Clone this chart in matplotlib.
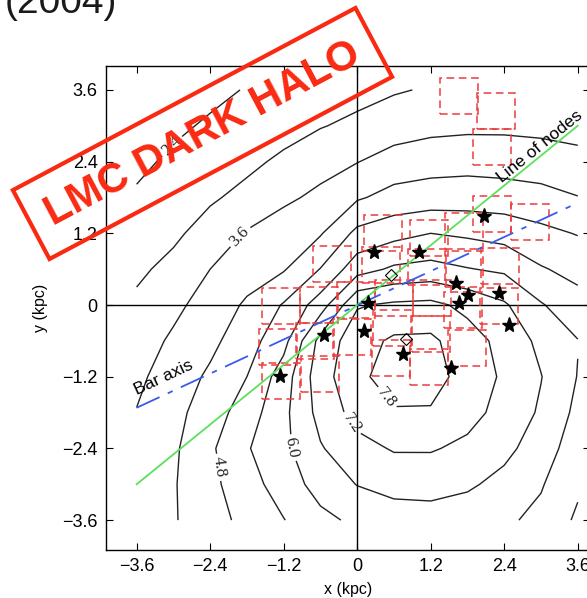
import numpy as np
import matplotlib.pyplot as plt
import matplotlib.patches as mpatches
import matplotlib.transforms as mtransforms

plt.rcParams['font.family'] = ['Liberation Sans', 'DejaVu Sans']

# surface density map, 0.6 kpc grid; rows listed from y = +3.6 down to y = -3.6
grid_x = np.arange(-3.6, 3.61, 0.6)
grid_y = np.arange(-3.6, 3.61, 0.6)
density_rows = [
    [1.87, 2.07, 2.27, 2.43, 2.56, 2.70, 2.82, 2.95, 3.05, 3.12, 3.16, 3.16, 3.12],
    [2.10, 2.30, 2.47, 2.62, 2.80, 2.97, 3.12, 3.30, 3.42, 3.47, 3.48, 3.45, 3.42],
    [2.28, 2.50, 2.70, 2.88, 3.10, 3.35, 3.58, 3.85, 3.97, 4.00, 3.95, 3.88, 3.75],
    [2.47, 2.70, 2.93, 3.15, 3.47, 3.75, 4.13, 4.40, 4.47, 4.50, 4.48, 4.40, 4.22],
    [2.70, 2.90, 3.22, 3.65, 3.95, 4.15, 4.95, 5.20, 5.40, 5.30, 5.17, 4.95, 4.77],
    [2.90, 3.15, 3.60, 3.95, 4.15, 4.82, 5.75, 6.10, 6.20, 6.03, 5.90, 5.45, 5.22],
    [3.10, 3.45, 3.87, 4.28, 4.85, 5.70, 7.15, 7.30, 7.35, 7.05, 6.68, 6.05, 5.62],
    [3.30, 3.70, 4.05, 4.55, 5.20, 6.80, 7.55, 7.90, 7.92, 7.45, 7.02, 6.45, 6.02],
    [3.48, 3.88, 4.30, 4.80, 5.70, 6.95, 7.64, 8.10, 8.05, 7.55, 7.11, 6.62, 5.98],
    [3.62, 4.02, 4.50, 5.10, 5.85, 6.80, 7.42, 7.74, 7.74, 7.40, 7.00, 6.52, 5.85],
    [3.72, 4.10, 4.70, 5.35, 5.85, 6.55, 7.00, 7.25, 7.25, 7.07, 6.76, 6.30, 5.68],
    [3.80, 4.15, 4.65, 5.15, 5.69, 6.23, 6.62, 6.80, 6.81, 6.69, 6.42, 6.05, 5.50],
    [3.85, 4.15, 4.55, 4.98, 5.38, 5.85, 6.12, 6.31, 6.36, 6.27, 6.10, 5.85, 5.30],
]
density = np.array(density_rows[::-1])

levels = [2.4, 3.0, 3.6, 4.2, 4.8, 5.4, 6.0, 6.6, 7.2, 7.8]
label_pos = [(-3.13, 2.76), (-1.92, 1.15), (-2.22, -2.71), (-1.04, -2.39), (0.0, -1.92), (0.54, -1.51)]

# observed fields (centres, kpc)
field_x = [1.66, 2.27, 2.20, 2.20, 2.82, 0.42, 1.17, 1.74, -0.41, 0.39, 1.14, 1.75, 2.33,
           -0.62, -0.02, 0.60, 1.22, 1.73, 2.32, -0.08, 0.57, 1.21, 1.79, 0.55, 1.17,
           -0.60, -1.25, -1.30, -0.69, -1.25]
field_y = [3.50, 3.25, 2.64, 1.52, 1.39, 1.20, 1.12, 1.24, 0.69, 0.67, 0.64, 0.60, 0.65,
           0.00, 0.08, 0.12, 0.12, -0.08, -0.02, -0.54, -0.39, -0.49, -0.72, -0.89, -1.04,
           -1.15, -0.02, -0.70, -0.60, -1.27]
field_w = 0.62
field_h = 0.60

# clusters
star_x = [2.07, 0.28, 1.01, 1.61, 1.81, 2.32, 1.66, 0.18, 2.48, 0.11, -0.54, 0.75, 1.53, -1.26]
star_y = [1.49, 0.89, 0.89, 0.37, 0.17, 0.20, 0.03, 0.03, -0.33, -0.44, -0.50, -0.82, -1.05, -1.19]
diamond_x = [0.55, 0.80]
diamond_y = [0.50, -0.57]

nodes_x = [-3.6, 3.6]
nodes_y = [-3.0, 3.0]
bar_x = [-3.6, 3.6]
bar_y = [-1.72, 1.71]

ticks = [-3.6, -2.4, -1.2, 0, 1.2, 2.4, 3.6]
tick_labels = ['\u22123.6', '\u22122.4', '\u22121.2', '0', '1.2', '2.4', '3.6']

stamp_red = '#FA2A12'

fig = plt.figure(figsize=(5.87, 5.98), dpi=100)
ax = fig.add_axes([106 / 587, 48 / 598, 484 / 587, 484 / 598])

cs = ax.contour(grid_x, grid_y, density, levels=levels, colors='#222222', linewidths=1.0, zorder=1)
with plt.rc_context({'font.family': ['Liberation Serif']}):
    ax.clabel(cs, manual=label_pos, inline=True, fmt='%.1f', fontsize=12)

ax.axhline(0, color='black', lw=1.0, zorder=2)
ax.axvline(0, color='black', lw=1.0, zorder=2)

for fx, fy in zip(field_x, field_y):
    ax.add_patch(mpatches.Rectangle((fx - field_w / 2, fy - field_h / 2), field_w, field_h,
                                    fill=False, edgecolor='#EE3B3B', lw=1.1,
                                    linestyle=(0, (5, 3)), zorder=3))

ax.plot(nodes_x, nodes_y, color='#5BE05B', lw=1.3, zorder=4)
ax.plot(bar_x, bar_y, color='#3A5BEA', lw=1.3, linestyle=(0, (14, 5, 3, 5)), zorder=4)
ax.text(2.98, 2.66, 'Line of nodes', rotation=39, rotation_mode='anchor',
        ha='center', va='center', fontsize=12.5, zorder=5)
ax.text(-3.16, -1.22, 'Bar axis', rotation=25, rotation_mode='anchor',
        ha='center', va='center', fontsize=12.5, zorder=5)

ax.plot(star_x, star_y, linestyle='none', marker='*', color='black', markersize=11, zorder=6)
ax.plot(diamond_x, diamond_y, linestyle='none', marker='D', markerfacecolor='none',
        markeredgecolor='black', markersize=6, markeredgewidth=0.8, zorder=6)

ax.set_xlim(-4.1, 3.8)
ax.set_ylim(-4.1, 4.0)
ax.set_xticks(ticks)
ax.set_xticklabels(tick_labels)
ax.set_yticks(ticks)
ax.set_yticklabels(tick_labels)
ax.tick_params(direction='in', top=True, right=True, length=5, width=0.8,
               labelsize=13, pad=6)
for sp in ax.spines.values():
    sp.set_linewidth(1.0)
ax.set_xlabel('x (kpc)', fontsize=11.5, labelpad=5)
ax.set_ylabel('y (kpc)', fontsize=11.5, labelpad=10)

fig.text(5 / 587, 585 / 598, '(2004)', fontsize=28, ha='left', va='baseline', color='#1a1a1a')

# rubber stamp across the upper left
px = mtransforms.Affine2D().scale(1 / 587, 1 / 598) + fig.transFigure
stamp = mpatches.Rectangle((202.5 - 194, 464.5 - 39), 388, 78, angle=28, rotation_point='center',
                           fill=False, edgecolor=stamp_red, lw=3.0, transform=px, zorder=10)
fig.add_artist(stamp)
fig.text(202.5 / 587, 464.5 / 598, 'LMC DARK HALO', rotation=28, rotation_mode='anchor',
         ha='center', va='center', fontsize=30, fontweight='bold', color=stamp_red, zorder=11)

fig.savefig('out.png', dpi=100)
